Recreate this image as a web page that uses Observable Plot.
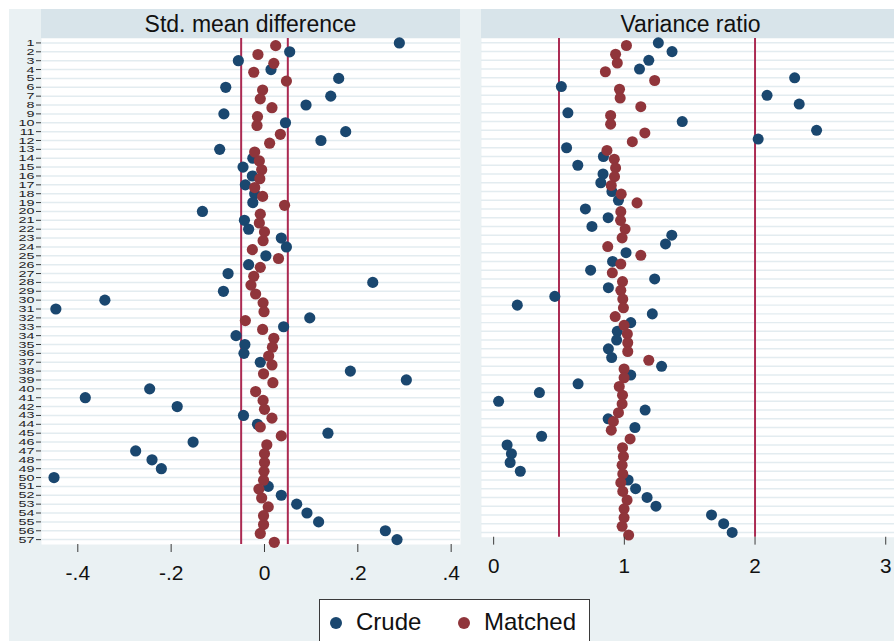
<!DOCTYPE html>
<html>
<head>
<meta charset="utf-8">
<script src="https://cdn.jsdelivr.net/npm/d3@7"></script>
<script src="https://cdn.jsdelivr.net/npm/@observablehq/plot@0.6"></script>
<style>
  html, body { margin: 0; padding: 0; background: #ffffff; overflow: hidden; width: 894px; height: 641px; }
  body { position: relative; font-family: "Liberation Sans", Arial, sans-serif; }
  #graph { position: absolute; left: 9px; top: 9px; width: 900px; height: 650px; background: #eaf1f3; }
  .strip { position: absolute; top: 9px; height: 29px; background: #d8e4ea; color: #111; font-size: 23px; line-height: 30px; text-align: center; white-space: nowrap; }
  .panel { position: absolute; top: 38px; }
  #legend { position: absolute; left: 319px; top: 599px; width: 271px; height: 60px; background: #fff; border: 1px solid #3a3a3a; box-sizing: border-box; }
  .lg-dot { position: absolute; width: 12px; height: 12px; border-radius: 50%; }
  .lg-txt { position: absolute; font-size: 24px; line-height: 24px; color: #111; white-space: nowrap; }
</style>
</head>
<body>
<div id="graph"></div>
<div id="strip1" class="strip" style="left:41px;width:419px;"></div>
<div id="strip2" class="strip" style="left:481px;width:419px;"></div>
<div id="panel1" class="panel" style="left:0px;"></div>
<div id="panel2" class="panel" style="left:481px;"></div>
<div id="legend"></div>
<script>
// ---------- data ----------
const panelTitles = ["Std. mean difference", "Variance ratio"];
const seriesNames = ["Crude", "Matched"];
const seriesColors = ["#1a476f", "#90353b"];

const rows = [1,2,3,4,5,6,7,8,9,10,11,12,13,14,15,16,17,18,19,20,21,22,23,24,25,26,27,28,29,30,
  31,32,33,34,35,36,37,38,39,40,41,42,43,44,45,46,47,48,49,50,51,52,53,54,55,56,57];

const crudeSMD = [0.289,0.054,-0.056,0.014,0.159,-0.083,0.142,0.089,-0.087,0.045,
  0.174,0.121,-0.096,-0.025,-0.046,-0.026,-0.041,-0.021,-0.025,-0.133,
  -0.043,-0.034,0.036,0.047,0.003,-0.034,-0.078,0.232,-0.088,-0.342,
  -0.447,0.097,0.041,-0.061,-0.042,-0.044,-0.009,0.184,0.304,-0.246,
  -0.384,-0.187,-0.045,-0.015,0.136,-0.153,-0.276,-0.241,-0.221,-0.451,
  0.008,0.036,0.069,0.091,0.116,0.259,0.284];

const matchedSMD = [0.024,-0.014,0.020,-0.023,0.047,-0.004,-0.009,0.016,-0.015,-0.016,
  0.034,0.011,-0.021,-0.011,-0.006,-0.010,-0.021,-0.004,0.043,-0.009,
  -0.011,0.000,-0.003,-0.026,0.030,-0.009,-0.023,-0.029,-0.019,-0.003,
  -0.001,-0.041,-0.004,0.020,0.017,0.009,0.016,-0.002,0.018,-0.019,
  -0.003,0.000,0.016,-0.009,0.036,0.005,0.000,0.000,-0.001,-0.002,
  -0.012,-0.006,0.008,-0.002,-0.002,-0.009,0.021];

const crudeVR = [1.260,1.365,1.187,1.116,2.303,0.518,2.092,2.338,0.568,1.443,
  2.471,2.024,0.558,0.840,0.644,0.837,0.820,0.905,0.955,0.702,
  0.876,0.752,1.363,1.315,1.013,0.910,0.742,1.232,0.878,0.468,
  0.181,1.214,1.049,0.946,0.941,0.878,0.903,1.285,1.049,0.646,
  0.350,0.038,1.159,0.876,1.081,0.367,0.103,0.136,0.126,0.204,
  1.029,1.086,1.174,1.242,1.667,1.760,1.825];

const matchedVR = [1.016,0.933,0.946,0.855,1.232,0.963,0.968,1.126,0.895,0.895,
  1.157,1.061,0.867,0.923,0.933,0.925,0.900,0.976,1.097,0.973,
  0.971,1.006,0.983,0.873,1.126,0.973,0.908,0.986,0.973,0.988,
  0.993,0.930,0.998,1.023,1.026,1.026,1.187,0.998,0.998,0.961,
  0.986,0.983,0.955,0.916,0.900,1.044,0.986,0.993,0.983,0.988,
  0.973,0.988,1.021,0.998,0.998,0.983,1.033];

const smdRefLines = [-0.05, 0.05];
const vrRefLines = [0.5, 2];
const smdTicks = [-0.4, -0.2, 0, 0.2, 0.4];
const smdTickLabels = ["-.4", "-.2", "0", ".2", ".4"];
const vrTicks = [0, 1, 2, 3];
const vrTickLabels = ["0", "1", "2", "3"];

// ---------- style ----------
const FONT = '"Liberation Sans", Arial, sans-serif';
const gridColor = "#e3ecf0";
const refColor = "#ab2a52";
const axisColor = "#3a3a3a";
const PLOT_H = 506, MB = 50;
const yDomain = [0.5, 57.55];
const R = 5.6;

function panel({width, marginLeft, xDomain, ticks, labels, refs, crude, matched, showY}) {
  const marks = [
    Plot.frame({fill: "#ffffff", stroke: null}),
    Plot.ruleY(rows, {y: d => d, stroke: gridColor, strokeWidth: 1.5}),
    Plot.ruleX(refs, {x: d => d, stroke: refColor, strokeWidth: 2}),
    Plot.dot(rows, {x: (d, i) => crude[i], y: d => d, r: R, fill: seriesColors[0], stroke: null}),
    Plot.dot(rows, {x: (d, i) => matched[i], y: d => d, r: R, fill: seriesColors[1], stroke: null, dy: 2.7}),
    Plot.axisX({ticks, tickFormat: d => labels[ticks.indexOf(d)], tickSize: 8, tickPadding: 13,
      fontSize: 21, stroke: axisColor, color: "#111", line: true})
  ];
  if (showY) {
    marks.push(Plot.axisY({ticks: rows, tickFormat: d => String(d), tickSize: 5, tickPadding: 2,
      fontSize: 11, stroke: axisColor, color: "#222", line: true}));
  }
  return Plot.plot({
    width, height: PLOT_H + MB,
    marginLeft, marginRight: 0, marginTop: 0, marginBottom: MB,
    style: {background: "transparent", fontFamily: FONT, overflow: "visible"},
    x: {domain: xDomain},
    y: {domain: yDomain, reverse: true, axis: showY ? undefined : null},
    marks
  });
}

const p1 = panel({width: 460, marginLeft: 41, xDomain: [-0.4778, 0.42], ticks: smdTicks, labels: smdTickLabels,
  refs: smdRefLines, crude: crudeSMD, matched: matchedSMD, showY: true});
const p2 = panel({width: 419, marginLeft: 0, xDomain: [-0.093, 3.067], ticks: vrTicks, labels: vrTickLabels,
  refs: vrRefLines, crude: crudeVR, matched: matchedVR, showY: false});

// stretch y tick labels horizontally (Stata-style squeezed labels)
p1.querySelectorAll('[aria-label="y-axis tick label"] text').forEach(t => {
  const tr = t.getAttribute("transform") || "";
  t.setAttribute("transform", tr + " scale(1.3,0.86)");
});

document.getElementById("panel1").appendChild(p1);
document.getElementById("panel2").appendChild(p2);
document.getElementById("strip1").textContent = panelTitles[0];
document.getElementById("strip2").textContent = panelTitles[1];

// legend
const legend = document.getElementById("legend");
const lgDotX = [16, 144], lgTxtX = [36, 164];
seriesNames.forEach((name, i) => {
  const dot = document.createElement("div");
  dot.className = "lg-dot";
  dot.style.left = (lgDotX[i] - 6) + "px";
  dot.style.top = (23 - 6) + "px";
  dot.style.background = seriesColors[i];
  legend.appendChild(dot);
  const txt = document.createElement("div");
  txt.className = "lg-txt";
  txt.style.left = lgTxtX[i] + "px";
  txt.style.top = "10px";
  txt.textContent = name;
  legend.appendChild(txt);
});
</script>
</body>
</html>
